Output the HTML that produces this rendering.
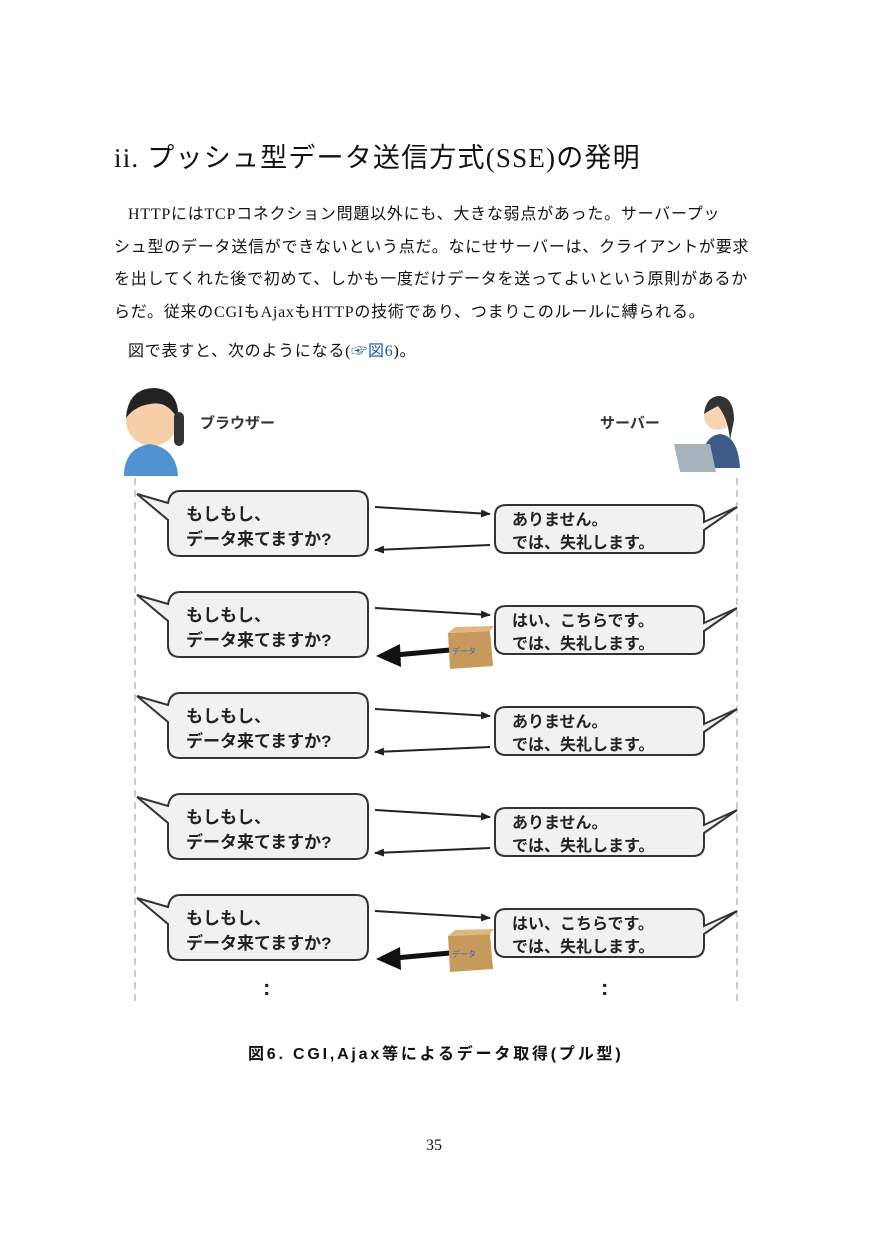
<!DOCTYPE html>
<html><head><meta charset="utf-8"><style>
body{margin:0;background:#fff;}
.p{position:relative;width:875px;height:1241px;overflow:hidden;font-family:"Liberation Serif","Noto Sans CJK JP",serif;color:#111;}
.t{position:absolute;white-space:nowrap;}
.b{font-size:16px;letter-spacing:0.75px;}
</style></head><body><div class="p">
<div class="t" style="left:114px;top:136px;font-size:27px;letter-spacing:1.2px;font-family:'Liberation Serif','Noto Sans CJK JP',serif;">ii. プッシュ型データ送信方式(SSE)の発明</div>
<div class="t b" style="left:128px;top:200px;">HTTPにはTCPコネクション問題以外にも、大きな弱点があった。サーバープッ</div>
<div class="t b" style="left:114px;top:233px;">シュ型のデータ送信ができないという点だ。なにせサーバーは、クライアントが要求</div>
<div class="t b" style="left:114px;top:265px;">を出してくれた後で初めて、しかも一度だけデータを送ってよいという原則があるか</div>
<div class="t b" style="left:114px;top:298px;">らだ。従来のCGIもAjaxもHTTPの技術であり、つまりこのルールに縛られる。</div>
<div class="t b" style="left:128px;top:337px;">図で表すと、次のようになる(<span style="color:#1a4fa0">☞図6</span>)。</div>
<svg class="t" style="left:0;top:0" width="875" height="1241" font-family="'Liberation Sans','Noto Sans CJK JP',sans-serif">
<line x1="135" y1="478" x2="135" y2="1004" stroke="#999" stroke-dasharray="7,5"/>
<line x1="737" y1="478" x2="737" y2="1004" stroke="#999" stroke-dasharray="7,5"/>
<circle cx="152" cy="420" r="26" fill="#f6cfa8"/><path d="M126 418 Q128 388 155 388 Q180 390 178 420 Q168 400 150 404 Q135 406 126 418Z" fill="#222"/>
<path d="M124 476 Q124 448 150 444 Q176 448 178 476Z" fill="#4f93d3"/>
<rect x="174" y="412" width="10" height="34" rx="5" fill="#333"/>
<text x="200" y="428" font-size="15" font-weight="bold" fill="#333">ブラウザー</text>
<text x="600" y="428" font-size="15" font-weight="bold" fill="#333">サーバー</text>
<circle cx="718" cy="416" r="14" fill="#f6d4b4"/><path d="M704 414 Q706 396 720 396 Q734 398 734 420 L730 440 Q728 418 718 406 Q710 410 704 414Z" fill="#333"/>
<path d="M700 468 Q702 436 720 434 Q738 436 740 468Z" fill="#3d5c8a"/>
<path d="M674 444 L710 444 L716 472 L680 472Z" fill="#a8b2bd"/>
<defs>
<marker id="a" markerWidth="10" markerHeight="8" refX="9" refY="4" orient="auto" markerUnits="userSpaceOnUse"><path d="M0 0 L10 4 L0 8Z" fill="#222"/></marker>
<g id="L"><path d="M180 491 H356 Q368 491 368 503 V544 Q368 556 356 556 H180 Q168 556 168 544 V520 L137 494 L168 503 Q170 491 180 491Z" fill="#f1f1f1" stroke="#333" stroke-width="2"/>
<text x="186" y="520" font-size="17" font-weight="bold" fill="#222">もしもし、</text><text x="186" y="545" font-size="17" font-weight="bold" fill="#222">データ来てますか?</text>
<line x1="375" y1="507" x2="490" y2="514" stroke="#222" stroke-width="2" marker-end="url(#a)"/></g>
<g id="Rn"><path d="M506 505 H693 Q704 505 704 516 V522 L737 507 L704 530 V542 Q704 553 693 553 H506 Q495 553 495 542 V516 Q495 505 506 505Z" fill="#f1f1f1" stroke="#333" stroke-width="2"/>
<text x="512" y="525" font-size="16" font-weight="bold" fill="#222">ありません。</text><text x="512" y="548" font-size="16" font-weight="bold" fill="#222">では、失礼します。</text>
<line x1="490" y1="545" x2="375" y2="550" stroke="#222" stroke-width="2" marker-end="url(#a)"/></g>
<g id="Ry"><path d="M506 505 H693 Q704 505 704 516 V522 L737 507 L704 530 V542 Q704 553 693 553 H506 Q495 553 495 542 V516 Q495 505 506 505Z" fill="#f1f1f1" stroke="#333" stroke-width="2"/>
<text x="512" y="525" font-size="16" font-weight="bold" fill="#222">はい、こちらです。</text><text x="512" y="548" font-size="16" font-weight="bold" fill="#222">では、失礼します。</text>
<line x1="450" y1="549" x2="395" y2="554" stroke="#111" stroke-width="5"/><path d="M376 555 L400 543 L401 566Z" fill="#111"/>
<path d="M448 532 L490 530 L493 565 L450 568Z" fill="#c79a5c"/><path d="M448 532 L455 526 L494 525 L490 530Z" fill="#ddb77e"/>
<text x="452" y="553" font-size="8" fill="#3366cc">データ</text></g>
</defs>
<use href="#L"/><use href="#Rn"/>
<use href="#L" y="101"/><use href="#Ry" y="101"/>
<use href="#L" y="202"/><use href="#Rn" y="202"/>
<use href="#L" y="303"/><use href="#Rn" y="303"/>
<use href="#L" y="404"/><use href="#Ry" y="404"/>
<text x="263" y="995" font-size="22" font-weight="bold" fill="#222">:</text>
<text x="601" y="995" font-size="22" font-weight="bold" fill="#222">:</text>
</svg>
<div class="t" style="left:248px;top:1040px;font-size:16px;font-weight:bold;letter-spacing:2.8px;font-family:'Liberation Sans','Noto Sans CJK JP',sans-serif;">図6. CGI,Ajax等によるデータ取得(プル型)</div>
<div class="t" style="left:426px;top:1137px;font-size:16px;">35</div>
</div></body></html>
